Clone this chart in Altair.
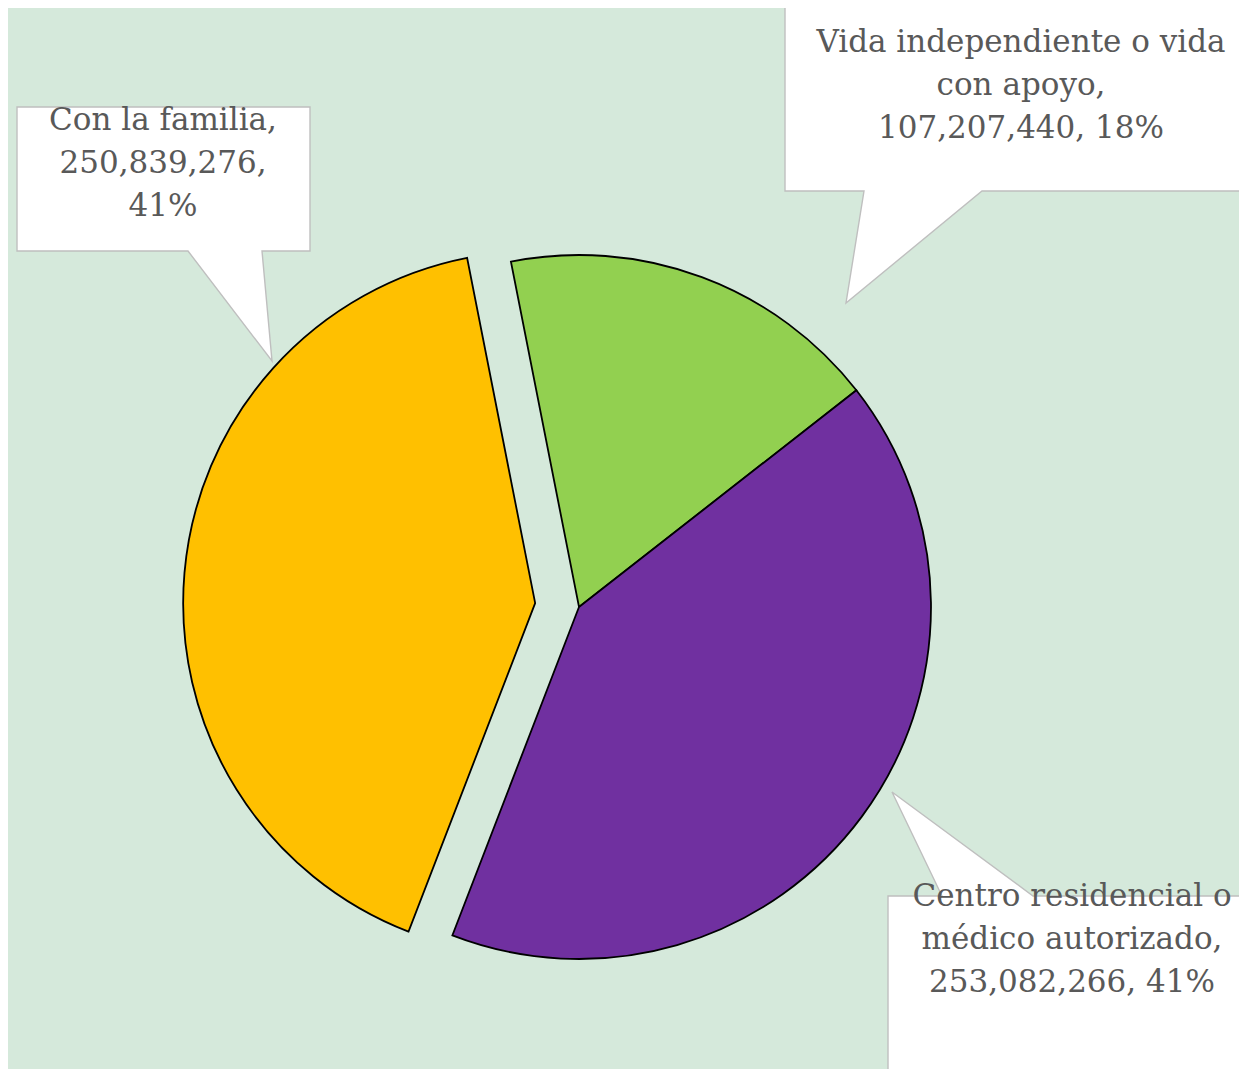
import math
import altair as alt
import pandas as pd

# ---------------- data ----------------
categories = [
    "Vida independiente o vida con apoyo",
    "Centro residencial o médico autorizado",
    "Con la familia",
]
values = [107207440, 253082266, 250839276]
colors = ["#92D050", "#7030A0", "#FFC000"]
exploded = [0, 0, 1]
# how each category name is wrapped inside its callout
name_lines = [
    ["Vida independiente o vida", "con apoyo,"],
    ["Centro residencial o", "médico autorizado,"],
    ["Con la familia,"],
]

# ---------------- layout / style ----------------
W, H = 1231, 1061
CX, CY = 571, 599          # pie centre (px)
R = 352                    # pie radius (px)
START_DEG = -11.15         # angle of first slice edge (clockwise from 12 o'clock)
EXPLODE = 44               # explode distance (px)
BG = "#D5E9DB"
TEXT_COLOR = "#595959"
FONT = "DejaVu Serif"
FS = 31

total = sum(values)
pcts = [round(100 * v / total) for v in values]

label_text = []
for i, v in enumerate(values):
    if i == 2:
        lines = name_lines[i] + [f"{v:,},", f"{pcts[i]}%"]
    else:
        lines = name_lines[i] + [f"{v:,}, {pcts[i]}%"]
    label_text.append("\n".join(lines))

pie_df = pd.DataFrame({
    "cat": categories,
    "value": values,
    "ord": list(range(len(values))),
    "explode": exploded,
    "keep": [1 - e for e in exploded],
    "label": label_text,
})

start = math.radians(START_DEG)
theta_scale = alt.Scale(range=[start, start + 2 * math.pi])

# offset of the exploded slice along its mid angle
cum = 0
dx = dy = 0.0
for v, e in zip(values, exploded):
    if e:
        mid = start + 2 * math.pi * (cum + v / 2) / total
        dx = EXPLODE * math.sin(mid)
        dy = -EXPLODE * math.cos(mid)
    cum += v

base_enc = dict(
    theta=alt.Theta("value:Q", stack=True, scale=theta_scale),
    order=alt.Order("ord:Q"),
    color=alt.Color("cat:N", scale=alt.Scale(domain=categories, range=colors), legend=None),
    x=alt.value(CX),
    y=alt.value(CY),
)

pie_main = alt.Chart(pie_df).mark_arc(
    outerRadius=R, stroke="black", strokeWidth=1.8
).encode(opacity=alt.Opacity("keep:Q", scale=None), **base_enc)

pie_expl = alt.Chart(pie_df).mark_arc(
    outerRadius=R, stroke="black", strokeWidth=1.8, xOffset=dx, yOffset=dy
).encode(opacity=alt.Opacity("explode:Q", scale=None), **base_enc)

# ---------------- callouts (speech bubbles) ----------------
bubbles = {
    "c0": [(777, -3), (1245, -3), (1245, 183), (974, 183), (838, 295), (856, 183), (777, 183)],
    "c1": [(880, 888), (934, 888), (884, 784), (1025, 888), (1245, 888), (1245, 1075), (880, 1075)],
    "c2": [(9, 99), (302, 99), (302, 243), (254, 243), (264, 353), (180, 243), (9, 243)],
}
rows = []
for k, pts in bubbles.items():
    for j, (px, py) in enumerate(pts):
        rows.append({"bubble": k, "o": j, "px": px, "py": py})
bub_df = pd.DataFrame(rows)

bubble_layer = alt.Chart(bub_df).mark_line(
    fill="white", stroke="#BFBFBF", strokeWidth=1.4, interpolate="linear-closed", clip=True
).encode(
    x=alt.X("px:Q", scale=alt.Scale(domain=[0, W], nice=False, zero=False), axis=None),
    y=alt.Y("py:Q", scale=alt.Scale(domain=[0, H], nice=False, zero=False, reverse=True), axis=None),
    order="o:Q",
    detail="bubble:N",
)

# centre of the first text line in each callout
label_pos = [(1013, 35), (1064, 889), (155, 113)]
text_layers = []
for i, (lx, ly) in enumerate(label_pos):
    t = alt.Chart(pie_df).transform_filter(alt.datum.ord == i).mark_text(
        font=FONT, fontSize=FS, color=TEXT_COLOR, lineBreak="\n", lineHeight=43,
        align="center", baseline="middle",
    ).encode(text="label:N", x=alt.value(lx), y=alt.value(ly))
    text_layers.append(t)

chart = alt.layer(bubble_layer, pie_main, pie_expl, *text_layers).properties(
    width=W, height=H,
    autosize=alt.AutoSizeParams(type="fit", contains="padding"),
    padding=0,
    background=BG,
).configure_view(stroke=None)

chart.save("out.html", embed_options={"renderer": "svg", "actions": False})
